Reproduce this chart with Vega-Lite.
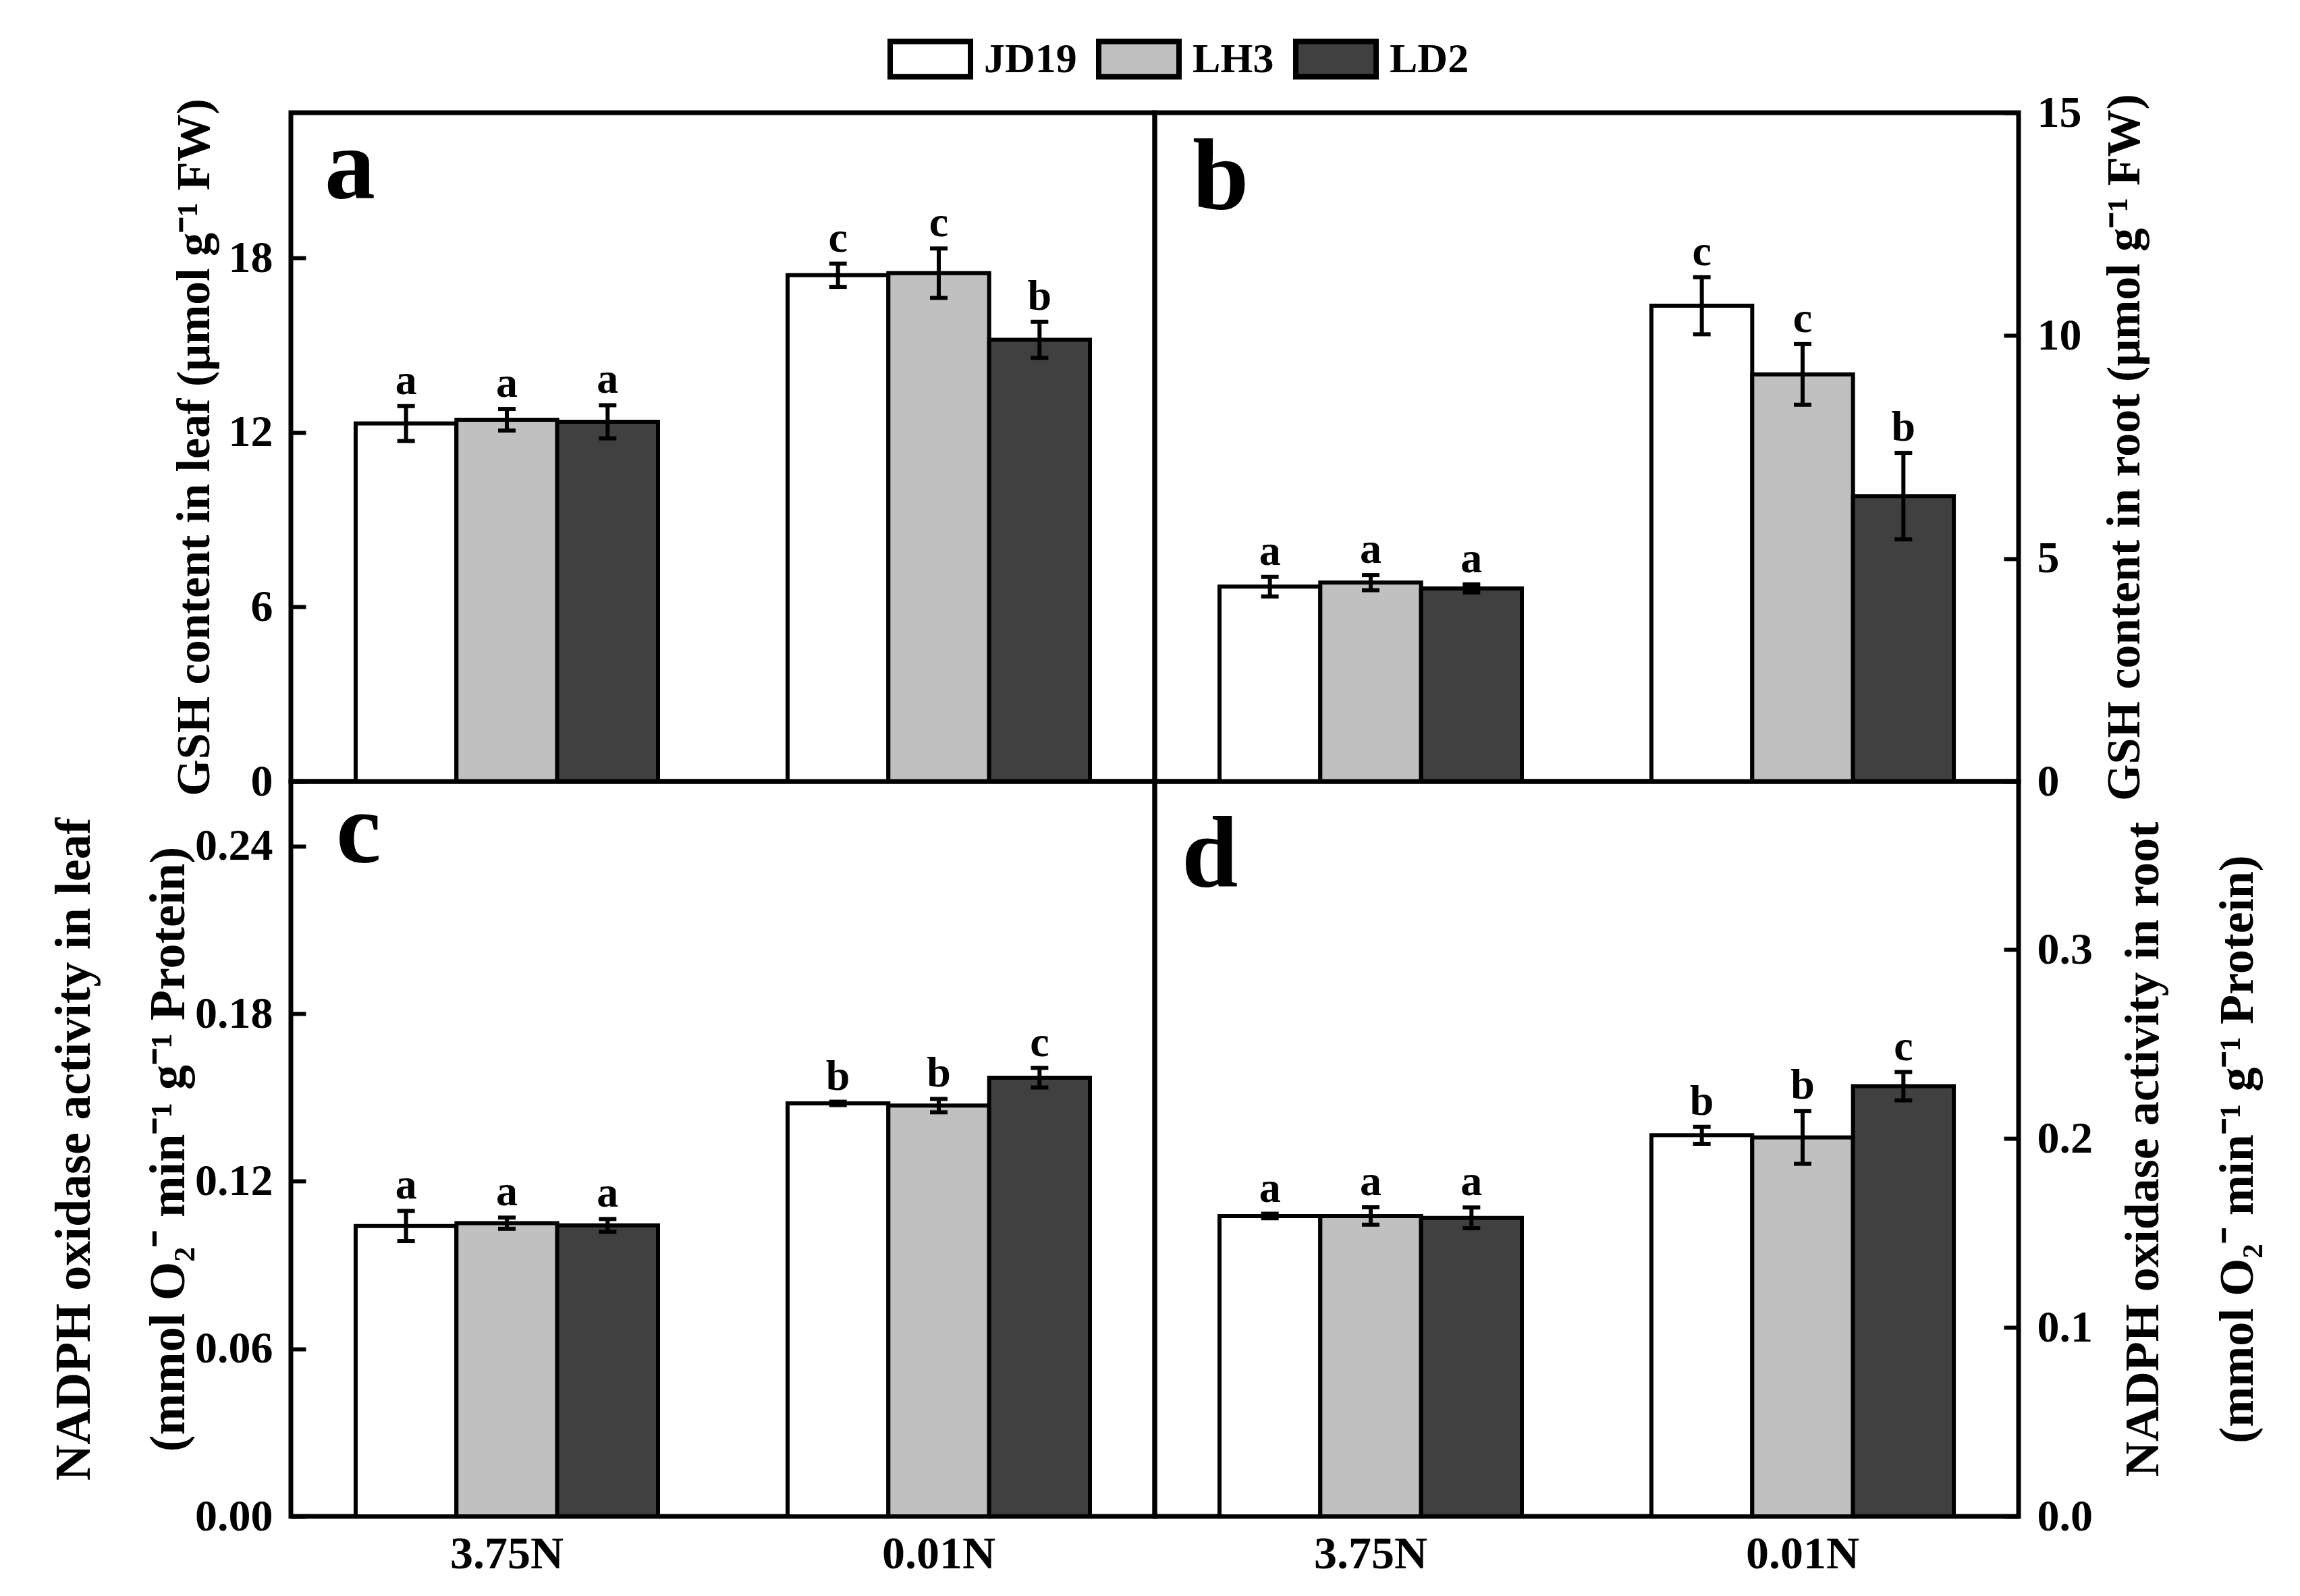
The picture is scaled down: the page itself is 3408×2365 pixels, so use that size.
{
  "$schema": "https://vega.github.io/schema/vega-lite/v6.json",
  "background": "white",
  "padding": {"left": 69, "top": 24, "right": 10, "bottom": 10},
  "datasets": {
    "bars": [
      {"panel": "a", "N": "3.75N", "cultivar": "JD19", "mean": 12.31, "lo": 11.71, "hi": 12.91, "letter": "a"},
      {"panel": "a", "N": "3.75N", "cultivar": "LH3", "mean": 12.44, "lo": 12.07, "hi": 12.81, "letter": "a"},
      {"panel": "a", "N": "3.75N", "cultivar": "LD2", "mean": 12.37, "lo": 11.80, "hi": 12.94, "letter": "a"},
      {"panel": "a", "N": "0.01N", "cultivar": "JD19", "mean": 17.41, "lo": 17.01, "hi": 17.81, "letter": "c"},
      {"panel": "a", "N": "0.01N", "cultivar": "LH3", "mean": 17.48, "lo": 16.63, "hi": 18.33, "letter": "c"},
      {"panel": "a", "N": "0.01N", "cultivar": "LD2", "mean": 15.19, "lo": 14.57, "hi": 15.81, "letter": "b"},
      {"panel": "b", "N": "3.75N", "cultivar": "JD19", "mean": 4.37, "lo": 4.15, "hi": 4.59, "letter": "a"},
      {"panel": "b", "N": "3.75N", "cultivar": "LH3", "mean": 4.46, "lo": 4.29, "hi": 4.63, "letter": "a"},
      {"panel": "b", "N": "3.75N", "cultivar": "LD2", "mean": 4.33, "lo": 4.24, "hi": 4.42, "letter": "a"},
      {"panel": "b", "N": "0.01N", "cultivar": "JD19", "mean": 10.67, "lo": 10.03, "hi": 11.31, "letter": "c"},
      {"panel": "b", "N": "0.01N", "cultivar": "LH3", "mean": 9.13, "lo": 8.45, "hi": 9.81, "letter": "c"},
      {"panel": "b", "N": "0.01N", "cultivar": "LD2", "mean": 6.40, "lo": 5.43, "hi": 7.37, "letter": "b"},
      {"panel": "c", "N": "3.75N", "cultivar": "JD19", "mean": 0.1040, "lo": 0.0986, "hi": 0.1094, "letter": "a"},
      {"panel": "c", "N": "3.75N", "cultivar": "LH3", "mean": 0.1050, "lo": 0.1030, "hi": 0.1070, "letter": "a"},
      {"panel": "c", "N": "3.75N", "cultivar": "LD2", "mean": 0.1042, "lo": 0.1019, "hi": 0.1065, "letter": "a"},
      {"panel": "c", "N": "0.01N", "cultivar": "JD19", "mean": 0.1479, "lo": 0.1473, "hi": 0.1485, "letter": "b"},
      {"panel": "c", "N": "0.01N", "cultivar": "LH3", "mean": 0.1471, "lo": 0.1447, "hi": 0.1495, "letter": "b"},
      {"panel": "c", "N": "0.01N", "cultivar": "LD2", "mean": 0.1571, "lo": 0.1536, "hi": 0.1606, "letter": "c"},
      {"panel": "d", "N": "3.75N", "cultivar": "JD19", "mean": 0.159, "lo": 0.1578, "hi": 0.1602, "letter": "a"},
      {"panel": "d", "N": "3.75N", "cultivar": "LH3", "mean": 0.159, "lo": 0.1544, "hi": 0.1636, "letter": "a"},
      {"panel": "d", "N": "3.75N", "cultivar": "LD2", "mean": 0.158, "lo": 0.1525, "hi": 0.1635, "letter": "a"},
      {"panel": "d", "N": "0.01N", "cultivar": "JD19", "mean": 0.2017, "lo": 0.1972, "hi": 0.2062, "letter": "b"},
      {"panel": "d", "N": "0.01N", "cultivar": "LH3", "mean": 0.2006, "lo": 0.1866, "hi": 0.2146, "letter": "b"},
      {"panel": "d", "N": "0.01N", "cultivar": "LD2", "mean": 0.2277, "lo": 0.2202, "hi": 0.2352, "letter": "c"}
    ],
    "labels": [
      {"panel": "a", "lab": "a", "ypos": 20.08},
      {"panel": "b", "lab": "b", "ypos": 12.84},
      {"panel": "c", "lab": "c", "ypos": 0.2342},
      {"panel": "d", "lab": "d", "ypos": 0.3333}
    ]
  },
  "columns": 2,
  "spacing": 0,
  "bounds": "flush",
  "align": "each",
  "resolve": {"scale": {"color": "shared", "x": "independent", "y": "independent", "xOffset": "independent"}},
  "concat": [
    {
      "width": 1280, "height": 991,
      "layer": [
        {"data": {"name": "bars"}, "transform": [{"filter": "datum.panel == 'a'"}],
         "mark": {"type": "bar", "stroke": "black", "strokeWidth": 6, "opacity": 1},
         "encoding": {
           "x": {"field": "N", "type": "nominal", "sort": ["3.75N", "0.01N"], "scale": {"paddingInner": 0.3, "paddingOuter": 0.15}, "axis": null},
           "xOffset": {"field": "cultivar", "type": "nominal", "sort": ["JD19", "LH3", "LD2"], "scale": {"paddingInner": 0, "paddingOuter": 0}},
           "y": {"field": "mean", "type": "quantitative", "scale": {"domain": [0, 23], "nice": false}, "axis": {"orient": "left", "values": [0, 6, 12, 18], "title": "GSH content in leaf (μmol g⁻¹ FW)", "titlePadding": 14, "titleFontSize": 70}},
           "color": {"field": "cultivar", "type": "nominal", "sort": ["JD19", "LH3", "LD2"], "scale": {"domain": ["JD19", "LH3", "LD2"], "range": ["#ffffff", "#c0c0c0", "#404040"]},
             "legend": {"orient": "none", "legendX": 884, "legendY": -143, "direction": "horizontal", "title": null, "symbolType": "M-1,-0.44H1V0.44H-1Z", "symbolSize": 14161, "symbolStrokeColor": "black", "symbolStrokeWidth": 8, "symbolOpacity": 1, "labelFontSize": 62, "labelFont": "Liberation Serif", "labelFontWeight": "bold", "labelColor": "black", "labelOffset": 16, "columnPadding": 16}}
         }},
        {"data": {"name": "bars"}, "transform": [{"filter": "datum.panel == 'a'"}],
         "mark": {"type": "rule", "strokeWidth": 6, "color": "black"},
         "encoding": {"x": {"field": "N", "type": "nominal", "sort": ["3.75N", "0.01N"]}, "xOffset": {"field": "cultivar", "type": "nominal", "sort": ["JD19", "LH3", "LD2"]}, "y": {"field": "lo", "type": "quantitative"}, "y2": {"field": "hi"}}},
        {"data": {"name": "bars"}, "transform": [{"filter": "datum.panel == 'a'"}],
         "mark": {"type": "tick", "orient": "horizontal", "size": 26, "thickness": 6, "color": "black", "opacity": 1},
         "encoding": {"x": {"field": "N", "type": "nominal", "sort": ["3.75N", "0.01N"]}, "xOffset": {"field": "cultivar", "type": "nominal", "sort": ["JD19", "LH3", "LD2"]}, "y": {"field": "lo", "type": "quantitative"}}},
        {"data": {"name": "bars"}, "transform": [{"filter": "datum.panel == 'a'"}],
         "mark": {"type": "tick", "orient": "horizontal", "size": 26, "thickness": 6, "color": "black", "opacity": 1},
         "encoding": {"x": {"field": "N", "type": "nominal", "sort": ["3.75N", "0.01N"]}, "xOffset": {"field": "cultivar", "type": "nominal", "sort": ["JD19", "LH3", "LD2"]}, "y": {"field": "hi", "type": "quantitative"}}},
        {"data": {"name": "bars"}, "transform": [{"filter": "datum.panel == 'a'"}],
         "mark": {"type": "text", "baseline": "alphabetic", "dy": -18, "fontSize": 64, "fontWeight": "bold", "font": "Liberation Serif", "color": "black"},
         "encoding": {"x": {"field": "N", "type": "nominal", "sort": ["3.75N", "0.01N"]}, "xOffset": {"field": "cultivar", "type": "nominal", "sort": ["JD19", "LH3", "LD2"]}, "y": {"field": "hi", "type": "quantitative"}, "text": {"field": "letter"}}},
        {"data": {"name": "labels"}, "transform": [{"filter": "datum.panel == 'a'"}],
         "mark": {"type": "text", "align": "left", "baseline": "alphabetic", "dx": -46, "fontSize": 150, "fontWeight": "bold", "font": "Liberation Serif", "color": "black"},
         "encoding": {"x": {"datum": "3.75N", "type": "nominal", "bandPosition": 0}, "y": {"field": "ypos", "type": "quantitative"}, "text": {"field": "lab"}}}
      ]
    },
    {
      "width": 1280, "height": 991,
      "layer": [
        {"data": {"name": "bars"}, "transform": [{"filter": "datum.panel == 'b'"}],
         "mark": {"type": "bar", "stroke": "black", "strokeWidth": 6, "opacity": 1},
         "encoding": {
           "x": {"field": "N", "type": "nominal", "sort": ["3.75N", "0.01N"], "scale": {"paddingInner": 0.3, "paddingOuter": 0.15}, "axis": null},
           "xOffset": {"field": "cultivar", "type": "nominal", "sort": ["JD19", "LH3", "LD2"], "scale": {"paddingInner": 0, "paddingOuter": 0}},
           "y": {"field": "mean", "type": "quantitative", "scale": {"domain": [0, 15], "nice": false}, "axis": {"orient": "right", "values": [0, 5, 10, 15], "format": "d", "title": "GSH content in root (μmol g⁻¹ FW)", "titleAngle": 270, "titleBaseline": "top", "titlePadding": 30, "titleFontSize": 70}},
           "color": {"field": "cultivar", "type": "nominal", "sort": ["JD19", "LH3", "LD2"], "scale": {"domain": ["JD19", "LH3", "LD2"], "range": ["#ffffff", "#c0c0c0", "#404040"]}}
         }},
        {"data": {"name": "bars"}, "transform": [{"filter": "datum.panel == 'b'"}],
         "mark": {"type": "rule", "strokeWidth": 6, "color": "black"},
         "encoding": {"x": {"field": "N", "type": "nominal", "sort": ["3.75N", "0.01N"]}, "xOffset": {"field": "cultivar", "type": "nominal", "sort": ["JD19", "LH3", "LD2"]}, "y": {"field": "lo", "type": "quantitative"}, "y2": {"field": "hi"}}},
        {"data": {"name": "bars"}, "transform": [{"filter": "datum.panel == 'b'"}],
         "mark": {"type": "tick", "orient": "horizontal", "size": 26, "thickness": 6, "color": "black", "opacity": 1},
         "encoding": {"x": {"field": "N", "type": "nominal", "sort": ["3.75N", "0.01N"]}, "xOffset": {"field": "cultivar", "type": "nominal", "sort": ["JD19", "LH3", "LD2"]}, "y": {"field": "lo", "type": "quantitative"}}},
        {"data": {"name": "bars"}, "transform": [{"filter": "datum.panel == 'b'"}],
         "mark": {"type": "tick", "orient": "horizontal", "size": 26, "thickness": 6, "color": "black", "opacity": 1},
         "encoding": {"x": {"field": "N", "type": "nominal", "sort": ["3.75N", "0.01N"]}, "xOffset": {"field": "cultivar", "type": "nominal", "sort": ["JD19", "LH3", "LD2"]}, "y": {"field": "hi", "type": "quantitative"}}},
        {"data": {"name": "bars"}, "transform": [{"filter": "datum.panel == 'b'"}],
         "mark": {"type": "text", "baseline": "alphabetic", "dy": -18, "fontSize": 64, "fontWeight": "bold", "font": "Liberation Serif", "color": "black"},
         "encoding": {"x": {"field": "N", "type": "nominal", "sort": ["3.75N", "0.01N"]}, "xOffset": {"field": "cultivar", "type": "nominal", "sort": ["JD19", "LH3", "LD2"]}, "y": {"field": "hi", "type": "quantitative"}, "text": {"field": "letter"}}},
        {"data": {"name": "labels"}, "transform": [{"filter": "datum.panel == 'b'"}],
         "mark": {"type": "text", "align": "left", "baseline": "alphabetic", "dx": -40, "fontSize": 150, "fontWeight": "bold", "font": "Liberation Serif", "color": "black"},
         "encoding": {"x": {"datum": "3.75N", "type": "nominal", "bandPosition": 0}, "y": {"field": "ypos", "type": "quantitative"}, "text": {"field": "lab"}}}
      ]
    },
    {
      "width": 1280, "height": 1089,
      "layer": [
        {"data": {"name": "bars"}, "transform": [{"filter": "datum.panel == 'c'"}],
         "mark": {"type": "bar", "stroke": "black", "strokeWidth": 6, "opacity": 1},
         "encoding": {
           "x": {"field": "N", "type": "nominal", "sort": ["3.75N", "0.01N"], "scale": {"paddingInner": 0.3, "paddingOuter": 0.15}, "axis": {"orient": "bottom", "title": null, "ticks": false, "labelAngle": 0, "labelPadding": 22, "labelFontSize": 68}},
           "xOffset": {"field": "cultivar", "type": "nominal", "sort": ["JD19", "LH3", "LD2"], "scale": {"paddingInner": 0, "paddingOuter": 0}},
           "y": {"field": "mean", "type": "quantitative", "scale": {"domain": [0, 0.2632], "nice": false}, "axis": {"orient": "left", "values": [0, 0.06, 0.12, 0.18, 0.24], "format": ".2f", "title": ["NADPH oxidase activity in leaf", "(mmol O₂⁻ min⁻¹ g⁻¹ Protein)"], "titlePadding": 0, "titleFontSize": 74}},
           "color": {"field": "cultivar", "type": "nominal", "sort": ["JD19", "LH3", "LD2"], "scale": {"domain": ["JD19", "LH3", "LD2"], "range": ["#ffffff", "#c0c0c0", "#404040"]}}
         }},
        {"data": {"name": "bars"}, "transform": [{"filter": "datum.panel == 'c'"}],
         "mark": {"type": "rule", "strokeWidth": 6, "color": "black"},
         "encoding": {"x": {"field": "N", "type": "nominal", "sort": ["3.75N", "0.01N"]}, "xOffset": {"field": "cultivar", "type": "nominal", "sort": ["JD19", "LH3", "LD2"]}, "y": {"field": "lo", "type": "quantitative"}, "y2": {"field": "hi"}}},
        {"data": {"name": "bars"}, "transform": [{"filter": "datum.panel == 'c'"}],
         "mark": {"type": "tick", "orient": "horizontal", "size": 26, "thickness": 6, "color": "black", "opacity": 1},
         "encoding": {"x": {"field": "N", "type": "nominal", "sort": ["3.75N", "0.01N"]}, "xOffset": {"field": "cultivar", "type": "nominal", "sort": ["JD19", "LH3", "LD2"]}, "y": {"field": "lo", "type": "quantitative"}}},
        {"data": {"name": "bars"}, "transform": [{"filter": "datum.panel == 'c'"}],
         "mark": {"type": "tick", "orient": "horizontal", "size": 26, "thickness": 6, "color": "black", "opacity": 1},
         "encoding": {"x": {"field": "N", "type": "nominal", "sort": ["3.75N", "0.01N"]}, "xOffset": {"field": "cultivar", "type": "nominal", "sort": ["JD19", "LH3", "LD2"]}, "y": {"field": "hi", "type": "quantitative"}}},
        {"data": {"name": "bars"}, "transform": [{"filter": "datum.panel == 'c'"}],
         "mark": {"type": "text", "baseline": "alphabetic", "dy": -18, "fontSize": 64, "fontWeight": "bold", "font": "Liberation Serif", "color": "black"},
         "encoding": {"x": {"field": "N", "type": "nominal", "sort": ["3.75N", "0.01N"]}, "xOffset": {"field": "cultivar", "type": "nominal", "sort": ["JD19", "LH3", "LD2"]}, "y": {"field": "hi", "type": "quantitative"}, "text": {"field": "letter"}}},
        {"data": {"name": "labels"}, "transform": [{"filter": "datum.panel == 'c'"}],
         "mark": {"type": "text", "align": "left", "baseline": "alphabetic", "dx": -29, "fontSize": 150, "fontWeight": "bold", "font": "Liberation Serif", "color": "black"},
         "encoding": {"x": {"datum": "3.75N", "type": "nominal", "bandPosition": 0}, "y": {"field": "ypos", "type": "quantitative"}, "text": {"field": "lab"}}}
      ]
    },
    {
      "width": 1280, "height": 1089,
      "layer": [
        {"data": {"name": "bars"}, "transform": [{"filter": "datum.panel == 'd'"}],
         "mark": {"type": "bar", "stroke": "black", "strokeWidth": 6, "opacity": 1},
         "encoding": {
           "x": {"field": "N", "type": "nominal", "sort": ["3.75N", "0.01N"], "scale": {"paddingInner": 0.3, "paddingOuter": 0.15}, "axis": {"orient": "bottom", "title": null, "ticks": false, "labelAngle": 0, "labelPadding": 22, "labelFontSize": 68}},
           "xOffset": {"field": "cultivar", "type": "nominal", "sort": ["JD19", "LH3", "LD2"], "scale": {"paddingInner": 0, "paddingOuter": 0}},
           "y": {"field": "mean", "type": "quantitative", "scale": {"domain": [0, 0.389], "nice": false}, "axis": {"orient": "right", "values": [0, 0.1, 0.2, 0.3], "format": ".1f", "title": ["NADPH oxidase activity in root", "(mmol O₂⁻ min⁻¹ g⁻¹ Protein)"], "titleAngle": 270, "titleBaseline": "top", "titlePadding": -100}},
           "color": {"field": "cultivar", "type": "nominal", "sort": ["JD19", "LH3", "LD2"], "scale": {"domain": ["JD19", "LH3", "LD2"], "range": ["#ffffff", "#c0c0c0", "#404040"]}}
         }},
        {"data": {"name": "bars"}, "transform": [{"filter": "datum.panel == 'd'"}],
         "mark": {"type": "rule", "strokeWidth": 6, "color": "black"},
         "encoding": {"x": {"field": "N", "type": "nominal", "sort": ["3.75N", "0.01N"]}, "xOffset": {"field": "cultivar", "type": "nominal", "sort": ["JD19", "LH3", "LD2"]}, "y": {"field": "lo", "type": "quantitative"}, "y2": {"field": "hi"}}},
        {"data": {"name": "bars"}, "transform": [{"filter": "datum.panel == 'd'"}],
         "mark": {"type": "tick", "orient": "horizontal", "size": 26, "thickness": 6, "color": "black", "opacity": 1},
         "encoding": {"x": {"field": "N", "type": "nominal", "sort": ["3.75N", "0.01N"]}, "xOffset": {"field": "cultivar", "type": "nominal", "sort": ["JD19", "LH3", "LD2"]}, "y": {"field": "lo", "type": "quantitative"}}},
        {"data": {"name": "bars"}, "transform": [{"filter": "datum.panel == 'd'"}],
         "mark": {"type": "tick", "orient": "horizontal", "size": 26, "thickness": 6, "color": "black", "opacity": 1},
         "encoding": {"x": {"field": "N", "type": "nominal", "sort": ["3.75N", "0.01N"]}, "xOffset": {"field": "cultivar", "type": "nominal", "sort": ["JD19", "LH3", "LD2"]}, "y": {"field": "hi", "type": "quantitative"}}},
        {"data": {"name": "bars"}, "transform": [{"filter": "datum.panel == 'd'"}],
         "mark": {"type": "text", "baseline": "alphabetic", "dy": -18, "fontSize": 64, "fontWeight": "bold", "font": "Liberation Serif", "color": "black"},
         "encoding": {"x": {"field": "N", "type": "nominal", "sort": ["3.75N", "0.01N"]}, "xOffset": {"field": "cultivar", "type": "nominal", "sort": ["JD19", "LH3", "LD2"]}, "y": {"field": "hi", "type": "quantitative"}, "text": {"field": "letter"}}},
        {"data": {"name": "labels"}, "transform": [{"filter": "datum.panel == 'd'"}],
         "mark": {"type": "text", "align": "left", "baseline": "alphabetic", "dx": -56, "fontSize": 150, "fontWeight": "bold", "font": "Liberation Serif", "color": "black"},
         "encoding": {"x": {"datum": "3.75N", "type": "nominal", "bandPosition": 0}, "y": {"field": "ypos", "type": "quantitative"}, "text": {"field": "lab"}}}
      ]
    }
  ],
  "config": {
    "font": "Liberation Serif",
    "view": {"stroke": "black", "strokeWidth": 7},
    "axis": {
      "domain": false,
      "grid": false,
      "ticks": true,
      "tickSize": -22,
      "tickWidth": 6,
      "tickColor": "black",
      "labelPadding": 49,
      "labelFont": "Liberation Serif",
      "labelFontWeight": "bold",
      "labelFontSize": 66,
      "labelColor": "black",
      "titleFont": "Liberation Serif",
      "titleFontWeight": "bold",
      "titleFontSize": 72,
      "titleColor": "black",
      "titleLineHeight": 140
    }
  }
}
